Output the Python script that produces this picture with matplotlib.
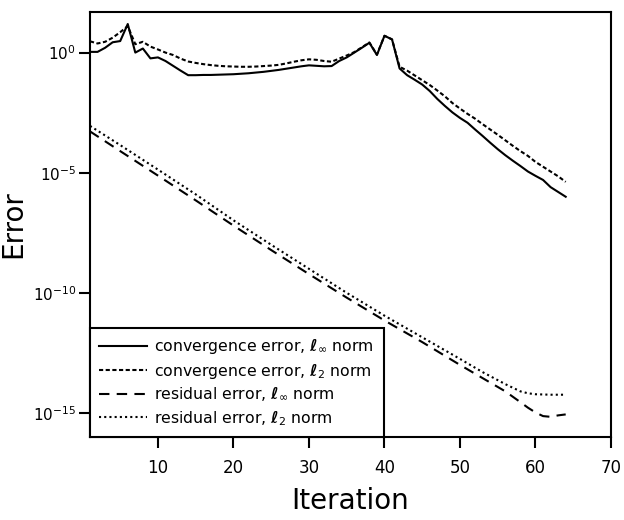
import matplotlib
matplotlib.use("Agg")
import matplotlib.pyplot as plt
import numpy as np

# ---------------- data (log10 of error) ----------------
iterations = list(range(1, 65))

conv_inf_log = [0.03, 0.03, 0.20, 0.43, 0.48, 1.19, 0.00, 0.17, -0.24, -0.20,
                -0.35, -0.55, -0.75, -0.94, -0.94, -0.93, -0.93, -0.92, -0.91, -0.90,
                -0.88, -0.86, -0.83, -0.80, -0.76, -0.72, -0.67, -0.62, -0.57, -0.53,
                -0.55, -0.57, -0.56, -0.35, -0.20, 0.00, 0.20, 0.41, -0.10, 0.70,
                0.55, -0.66, -0.94, -1.13, -1.33, -1.60, -1.93, -2.22, -2.49, -2.72,
                -2.92, -3.20, -3.47, -3.75, -4.02, -4.27, -4.50, -4.72, -4.95, -5.13,
                -5.30, -5.60, -5.80, -6.00]

conv_l2_log = [0.47, 0.38, 0.45, 0.62, 0.85, 1.10, 0.35, 0.45, 0.25, 0.13,
               0.00, -0.10, -0.25, -0.37, -0.43, -0.48, -0.52, -0.55, -0.57, -0.58,
               -0.59, -0.59, -0.58, -0.56, -0.54, -0.51, -0.45, -0.38, -0.32, -0.28,
               -0.30, -0.35, -0.38, -0.25, -0.12, 0.02, 0.22, 0.42, -0.08, 0.70,
               0.55, -0.59, -0.75, -0.95, -1.15, -1.35, -1.58, -1.82, -2.10, -2.33,
               -2.55, -2.75, -2.98, -3.20, -3.42, -3.65, -3.88, -4.10, -4.30, -4.55,
               -4.75, -4.95, -5.15, -5.38]

res_iter = [1, 5, 10, 15, 20, 25, 30, 35, 40, 45, 50, 53, 56, 58, 59, 60, 61, 62, 63, 64]
res_inf_log = [-3.28, -4.10, -5.12, -6.15, -7.20, -8.22, -9.22, -10.20, -11.15, -12.05,
               -13.00, -13.55, -14.10, -14.55, -14.78, -14.98, -15.13, -15.16, -15.10, -15.06]
res_l2_log = [-3.05, -3.85, -4.87, -5.90, -6.98, -8.00, -9.00, -10.00, -10.95, -11.85,
              -12.75, -13.30, -13.80, -14.10, -14.18, -14.22, -14.23, -14.24, -14.24, -14.24]

labels = [r"convergence error, $\boldsymbol{\ell}_\infty$ norm",
          r"convergence error, $\boldsymbol{\ell}_2$ norm",
          r"residual error, $\boldsymbol{\ell}_\infty$ norm",
          r"residual error, $\boldsymbol{\ell}_2$ norm"]

x_ticks = [10, 20, 30, 40, 50, 60, 70]
y_ticks = [1e0, 1e-5, 1e-10, 1e-15]
y_ticklabels = [r"$10^{0}$", r"$10^{-5}$", r"$10^{-10}$", r"$10^{-15}$"]

# ---------------- plot ----------------
plt.rcParams["font.family"] = ["DejaVu Sans"]
fig = plt.figure(figsize=(6.24, 5.20), dpi=100)
ax = fig.add_axes([90 / 624, 1 - 437 / 520, (611 - 90) / 624, (437 - 12) / 520])

lw = 1.5
ax.plot(iterations, np.power(10.0, conv_inf_log), color="black", lw=lw,
        linestyle="-", label=labels[0])
ax.plot(iterations, np.power(10.0, conv_l2_log), color="black", lw=lw,
        linestyle=(0, (2, 1.2)), label=labels[1])
ax.plot(res_iter, np.power(10.0, res_inf_log), color="black", lw=lw,
        linestyle=(0, (5, 3.5)), label=labels[2])
ax.plot(res_iter, np.power(10.0, res_l2_log), color="black", lw=lw,
        linestyle=(0, (1, 1.5)), label=labels[3])

ax.set_yscale("log")
ax.set_xlim(1, 70)
ax.set_ylim(1e-16, 10 ** 1.69)

ax.set_xticks(x_ticks)
ax.set_xticklabels([str(t) for t in x_ticks], fontsize=12)
ax.set_yticks(y_ticks)
ax.set_yticklabels(y_ticklabels, fontsize=11)
ax.minorticks_off()
ax.yaxis.set_minor_locator(matplotlib.ticker.NullLocator())

ax.tick_params(axis="both", direction="out", length=8, width=1.5, colors="black")
ax.tick_params(axis="x", pad=8)
ax.tick_params(axis="y", pad=2)

for s in ax.spines.values():
    s.set_linewidth(1.5)
    s.set_color("black")

ax.set_xlabel("Iteration", fontsize=20, labelpad=7)
ax.set_ylabel("Error", fontsize=20, labelpad=4)

leg = ax.legend(loc="lower left", borderaxespad=0, fontsize=11.3, frameon=True,
                fancybox=False, edgecolor="black", framealpha=1,
                handlelength=3.0, handletextpad=0.5, labelspacing=0.35,
                borderpad=0.6)
leg.get_frame().set_linewidth(1.5)

fig.savefig("out.png", dpi=100)
